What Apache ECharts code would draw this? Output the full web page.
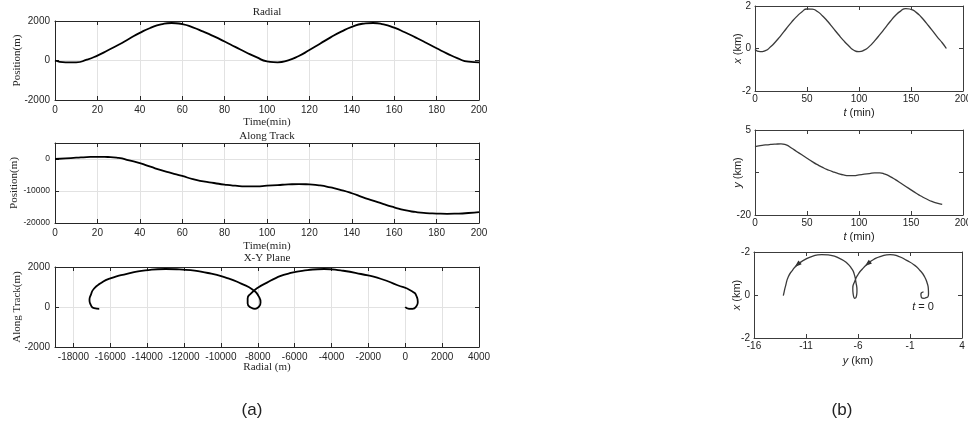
<!DOCTYPE html>
<html>
<head>
<meta charset="utf-8">
<script src="https://cdn.jsdelivr.net/npm/echarts@6/dist/echarts.min.js"></script>
<style>
  html, body { margin: 0; padding: 0; background: #fff; }
  #chart { width: 968px; height: 423px; }
</style>
</head>
<body>
<div id="chart"></div>
<script>
// ---- panel (a) : metres, every 5 min
const timeA = [0, 5, 10, 15, 20, 25, 30, 35, 40, 45, 50, 55, 60, 65, 70, 75, 80, 85, 90, 95, 100,
  105, 110, 115, 120, 125, 130, 135, 140, 145, 150, 155, 160, 165, 170, 175, 180, 185, 190, 195, 200];
const radialA = [0, -90, -90, 40, 250, 520, 800, 1100, 1400, 1650, 1830, 1900, 1840, 1680, 1460, 1220, 960, 690, 420, 170, -40,
  -90, 10, 230, 530, 850, 1170, 1460, 1700, 1860, 1900, 1830, 1660, 1430, 1170, 900, 620, 350, 110, -60, -90];
const alongA = [0, 200, 400, 600, 680, 620, 340, -450, -1300, -2400, -3500, -4400, -5300, -6300, -7000, -7500, -8000, -8350, -8550, -8550, -8350,
  -8150, -7950, -7850, -7950, -8250, -8900, -9700, -10700, -11900, -13000, -14100, -15100, -16000, -16550, -16900, -17050, -17130, -17060, -16880, -16600];
const timeTicksA = [0, 20, 40, 60, 80, 100, 120, 140, 160, 180, 200];
const radialTicksA = [-2000, 0, 2000];
const alongTicksA = [-20000, -10000, 0];
const planeTicksA = [-18000, -16000, -14000, -12000, -10000, -8000, -6000, -4000, -2000, 0, 2000, 4000];

// ---- panel (b) : km
const timeBx = [0, 5, 10, 15, 20, 25, 30, 35, 40, 45, 50, 55, 60, 65, 70, 75, 80, 85, 90, 95, 100,
  105, 110, 115, 120, 125, 130, 135, 140, 145, 150, 155, 160, 165, 170, 175, 180, 184];
const xB = [-0.05, -0.15, -0.1, 0.08, 0.33, 0.62, 0.93, 1.23, 1.5, 1.72, 1.86, 1.85, 1.74, 1.53, 1.27, 0.97, 0.67, 0.38, 0.13, -0.08, -0.15,
  -0.08, 0.1, 0.36, 0.65, 0.96, 1.27, 1.55, 1.76, 1.88, 1.84, 1.7, 1.47, 1.18, 0.88, 0.56, 0.27, 0.0];
const timeBy = [0, 5, 10, 15, 20, 25, 30, 35, 40, 45, 50, 55, 60, 65, 70, 75, 80, 85, 90, 95, 100,
  105, 110, 115, 120, 125, 130, 135, 140, 145, 150, 155, 160, 165, 170, 175, 180];
const yB = [0.1, 0.4, 0.6, 0.75, 0.85, 0.9, 0.6, -0.3, -1.3, -2.3, -3.3, -4.3, -5.2, -6.0, -6.7, -7.3, -7.8, -8.2, -8.4, -8.4, -8.2,
  -8.0, -7.8, -7.6, -7.6, -8.0, -8.7, -9.6, -10.6, -11.6, -12.6, -13.6, -14.5, -15.3, -16.0, -16.5, -16.9];
// x-y path (y along the horizontal, x up)
const pathBy = [0.30, 0.05, 0.10, 0.35, 0.55, 0.70, 0.78, 0.76, 0.67, 0.40, -0.04, -0.60, -1.32, -2.1, -2.92, -3.8, -4.5, -5.07, -5.6, -6.0,
  -6.3, -6.5, -6.45, -6.3, -6.15, -6.1, -6.2, -6.35, -6.6, -7.1, -7.73, -8.6, -9.49, -10.4, -11.2, -11.83, -12.3, -12.7, -12.95, -13.1, -13.18];
const pathBx = [0.15, 0.05, -0.12, -0.16, -0.12, -0.10, 0.05, 0.30, 0.52, 0.85, 1.14, 1.40, 1.61, 1.80, 1.88, 1.80, 1.65, 1.45, 1.2, 0.95,
  0.65, 0.3, 0.0, -0.16, -0.05, 0.2, 0.6, 0.95, 1.22, 1.5, 1.69, 1.84, 1.88, 1.8, 1.62, 1.41, 1.15, 0.85, 0.45, 0.15, -0.03];
const arrowBy = [-5.07, -11.83];
const arrowBx = [1.45, 1.41];
const startLabelB = [0.25, -0.55];
const timeTicksB = [0, 50, 100, 150, 200];
const xTicksB = [-2, 0, 2];
const yTicksB = [-20, -7.5, 5];
const yLabelsB = [-20, 5];
const planeTicksB = [-16, -11, -6, -1, 4];

const serif = 'Liberation Serif, DejaVu Serif, serif';
const sans = 'Liberation Sans, Arial, sans-serif';

const chart = echarts.init(document.getElementById('chart'));

// grids in pixels
const grids = [
  { left: 55, top: 21, width: 424, height: 79 },
  { left: 55, top: 143, width: 424, height: 80 },
  { left: 55, top: 267, width: 424, height: 80 },
  { left: 755, top: 6, width: 208, height: 85 },
  { left: 755, top: 130, width: 208, height: 85 },
  { left: 754, top: 252, width: 208, height: 86 }
].map(g => Object.assign({ containLabel: false, outerBoundsMode: 'none' }, g));

const xAxes = [];
const yAxes = [];
const plain = v => String(v);

// builds a closed box: bottom/left axes with labels, top/right with ticks only
function boxAxes(gi, o) {
  const frame = { show: true, onZero: false, lineStyle: { color: o.frame, width: 1 } };
  const tickX = { show: true, inside: true, length: 4, customValues: o.xTicks, lineStyle: { color: o.frame } };
  const tickY = { show: true, inside: true, length: 4, customValues: o.yTicks, lineStyle: { color: o.frame } };
  const split = (vals) => ({ show: !!o.gridLines, customValues: vals, lineStyle: { color: '#e2e2e2', width: 1 } });
  const labelStyle = { fontSize: 10, fontFamily: sans, color: o.text };
  const nameStyle = Object.assign({ fontSize: o.nameSize, fontFamily: o.nameFont, color: o.text }, o.rich ? { rich: o.rich } : {});

  xAxes.push({
    type: 'value', gridIndex: gi, position: 'bottom', min: o.xMin, max: o.xMax,
    name: o.xName, nameLocation: 'middle', nameGap: o.xGap, nameTextStyle: nameStyle, nameMoveOverlap: false,
    axisLine: frame, axisTick: tickX,
    axisLabel: Object.assign({ customValues: o.xTicks, margin: o.xMargin, formatter: plain }, labelStyle),
    splitLine: split(o.xTicks)
  });
  xAxes.push({
    type: 'value', gridIndex: gi, position: 'top', min: o.xMin, max: o.xMax,
    axisLine: frame, axisTick: tickX, axisLabel: { show: false }, splitLine: { show: false }
  });
  yAxes.push({
    type: 'value', gridIndex: gi, position: 'left', min: o.yMin, max: o.yMax,
    name: o.yName, nameLocation: 'middle', nameGap: o.yGap, nameTextStyle: nameStyle, nameMoveOverlap: false,
    axisLine: frame, axisTick: tickY,
    axisLabel: Object.assign({ customValues: o.yLabels || o.yTicks, margin: o.yMargin, formatter: o.yFormat || plain },
      labelStyle, o.yLabelSize ? { fontSize: o.yLabelSize } : {}),
    splitLine: split(o.yTicks)
  });
  yAxes.push({
    type: 'value', gridIndex: gi, position: 'right', min: o.yMin, max: o.yMax,
    axisLine: frame, axisTick: tickY, axisLabel: { show: false }, splitLine: { show: false }
  });
}

const aStyle = { frame: '#262626', text: '#262626', gridLines: true, nameFont: serif, nameSize: 11, xMargin: 5, yMargin: 5, xGap: 17, yGap: 32 };
const bStyle = { frame: '#3c3c3c', text: '#222', gridLines: false, nameFont: sans, nameSize: 11, xMargin: 3, yMargin: 4, xGap: 16, yGap: 12,
  rich: { i: { fontStyle: 'italic', fontSize: 11, fontFamily: sans, color: '#222' } } };

boxAxes(0, Object.assign({}, aStyle, { xMin: 0, xMax: 200, xTicks: timeTicksA, yMin: -2000, yMax: 2000, yTicks: radialTicksA,
  xName: 'Time(min)', yName: 'Position(m)' }));
boxAxes(1, Object.assign({}, aStyle, { xMin: 0, xMax: 200, xTicks: timeTicksA, yMin: -20000, yMax: 5000, yTicks: alongTicksA,
  xName: 'Time(min)', yName: 'Position(m)', xGap: 18, yGap: 35, yLabelSize: 8.5 }));
boxAxes(2, Object.assign({}, aStyle, { xMin: -19000, xMax: 4000, xTicks: planeTicksA, yMin: -2000, yMax: 2000, yTicks: radialTicksA,
  xName: 'Radial (m)', yName: 'Along Track(m)', xGap: 15 }));
boxAxes(3, Object.assign({}, bStyle, { xMin: 0, xMax: 200, xTicks: timeTicksB, yMin: -2, yMax: 2, yTicks: xTicksB,
  xName: '{i|t} (min)', yName: '{i|x} (km)' }));
boxAxes(4, Object.assign({}, bStyle, { xMin: 0, xMax: 200, xTicks: timeTicksB, yMin: -20, yMax: 5, yTicks: yTicksB, yLabels: yLabelsB,
  xName: '{i|t} (min)', yName: '{i|y} (km)' }));
boxAxes(5, Object.assign({}, bStyle, { xMin: -16, xMax: 4, xTicks: planeTicksB, yMin: -2, yMax: 2, yTicks: xTicksB,
  xName: '{i|y} (km)', yName: '{i|x} (km)', xGap: 17,
  yFormat: v => (v === 0 ? '0' : String(-Math.abs(v))) }));

function curve(gi, data, color, width) {
  return {
    type: 'line', xAxisIndex: gi * 2, yAxisIndex: gi * 2, data: data,
    showSymbol: false, smooth: 0.6, silent: true,
    lineStyle: { color: color, width: width }
  };
}

const series = [
  curve(0, timeA.map((t, i) => [t, radialA[i]]), '#000', 1.8),
  curve(1, timeA.map((t, i) => [t, alongA[i]]), '#000', 1.8),
  curve(2, alongA.map((a, i) => [a, radialA[i]]), '#000', 1.8),
  curve(3, timeBx.map((t, i) => [t, xB[i]]), '#3a3a3a', 1.3),
  curve(4, timeBy.map((t, i) => [t, yB[i]]), '#3a3a3a', 1.3),
  curve(5, pathBy.map((y, i) => [y, pathBx[i]]), '#3a3a3a', 1.3),
  {
    // direction arrows on the x-y path
    type: 'scatter', xAxisIndex: 10, yAxisIndex: 10, silent: true,
    symbol: 'triangle', symbolSize: [5, 7], symbolRotate: 130,
    itemStyle: { color: '#2a2a2a', opacity: 1 },
    data: arrowBy.map((y, i) => [y, arrowBx[i]])
  },
  {
    type: 'scatter', xAxisIndex: 10, yAxisIndex: 10, silent: true, symbolSize: 0,
    data: [startLabelB],
    label: {
      show: true, position: 'inside', formatter: '{i|t} = 0',
      fontSize: 11, fontFamily: sans, color: '#222', opacity: 1,
      rich: { i: { fontStyle: 'italic', fontSize: 11, fontFamily: sans, color: '#222' } }
    }
  }
];

function text(str, x, y, size, font) {
  return {
    type: 'text', x: x, y: y, silent: true,
    style: { text: str, fontSize: size, fontFamily: font, fill: '#222', textAlign: 'center', textVerticalAlign: 'middle' }
  };
}

const option = {
  animation: false,
  backgroundColor: '#fff',
  grid: grids,
  xAxis: xAxes,
  yAxis: yAxes,
  series: series,
  graphic: [
    text('Radial', 267, 12.5, 11, serif),
    text('Along Track', 267, 136.5, 11, serif),
    text('X-Y Plane', 267, 258.5, 11, serif),
    text('(a)', 252, 410, 17, sans),
    text('(b)', 842, 410, 17, sans)
  ]
};

chart.setOption(option);
</script>
</body>
</html>
